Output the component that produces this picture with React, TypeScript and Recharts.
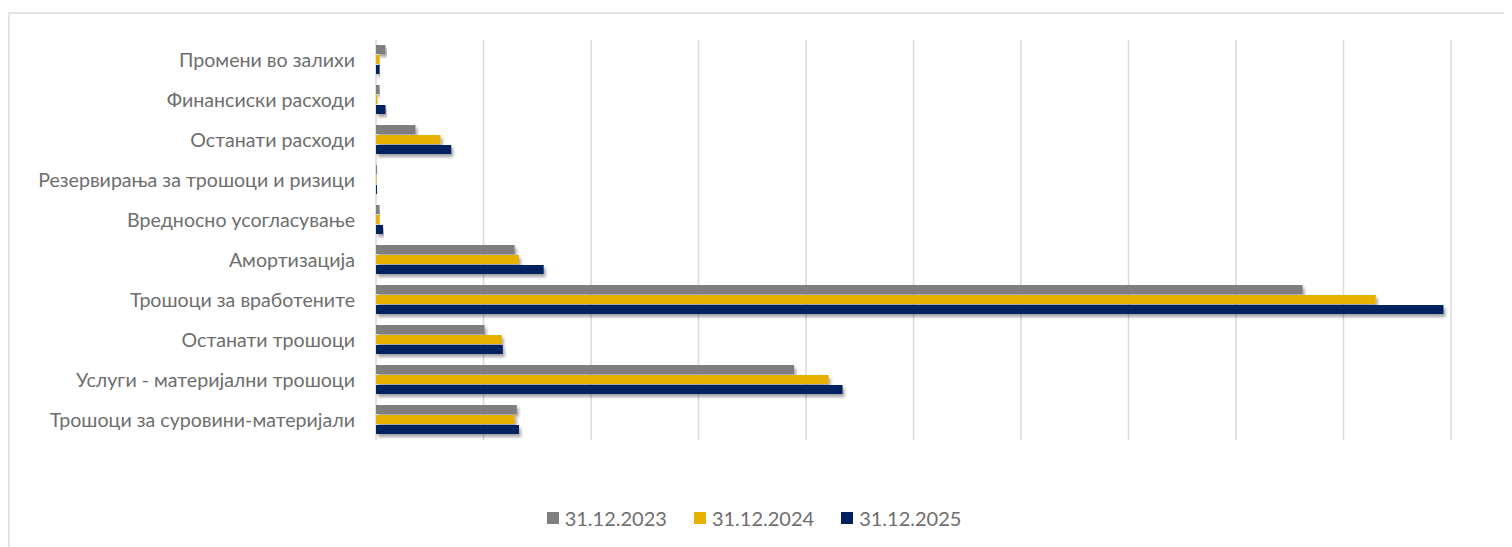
import React from "react";
import {
  Bar,
  BarChart,
  CartesianGrid,
  Legend,
  XAxis,
  YAxis,
} from "recharts";

// категории, од горе надолу
const categories = [
  "Промени во залихи",
  "Финансиски расходи",
  "Останати расходи ",
  "Резервирања за трошоци и ризици",
  "Вредносно усогласување",
  "Амортизација ",
  "Трошоци за вработените",
  "Останати трошоци",
  "Услуги - материјални трошоци",
  "Трошоци за суровини-материјали",
];

const y2023 = [8.8, 3.3, 36.7, 0.9, 3.3, 129, 862, 101, 389, 131];
const y2024 = [3.3, 1.4, 60, 0.5, 3.3, 133, 930, 117, 421, 129];
const y2025 = [3.3, 8.8, 70, 0.9, 6.5, 156, 993, 118, 434, 133];

const xTicks = [0, 100, 200, 300, 400, 500, 600, 700, 800, 900, 1000];

const seriesNames = ["31.12.2023", "31.12.2024", "31.12.2025"];
const colors = ["#7f7f7f", "#e8b000", "#002060"];

const data = categories.map((name, i) => ({
  name,
  a: y2023[i],
  b: y2024[i],
  c: y2025[i],
}));

const FONT = "Lato, 'Open Sans', sans-serif";
const TEXT = "#6e6e6e";

function LegendContent() {
  return (
    <div
      style={{
        display: "flex",
        justifyContent: "center",
        gap: 27,
        fontFamily: FONT,
        fontSize: 20,
        color: TEXT,
      }}
    >
      {seriesNames.map((n, i) => (
        <div key={n} style={{ display: "flex", alignItems: "center", gap: 6 }}>
          <span
            style={{ width: 12, height: 12, background: colors[i], display: "inline-block" }}
          />
          <span>{n}</span>
        </div>
      ))}
    </div>
  );
}

export default function App() {
  return (
    <div
      style={{
        marginTop: 4,
        width: 1504,
        height: 540,
        borderTop: "2px solid #e2e2e2",
        borderLeft: "2px solid #e2e2e2",
        boxSizing: "border-box",
        background: "#fff",
      }}
    >
      <BarChart
        width={1494}
        height={533}
        data={data}
        layout="vertical"
        margin={{ top: 26, right: 53, left: 0, bottom: 107 }}
        barCategoryGap={5}
        barGap={1}
      >
        <defs>
          <filter id="barShadow" x="-5%" y="-30%" width="115%" height="190%">
            <feDropShadow dx="2" dy="3" stdDeviation="1.6" floodColor="#000" floodOpacity="0.35" />
          </filter>
        </defs>
        <CartesianGrid horizontal={false} stroke="#d9d9d9" strokeWidth={1.5} syncWithTicks />
        <XAxis type="number" domain={[0, 1000]} ticks={xTicks} hide />
        <YAxis
          type="category"
          dataKey="name"
          width={366}
          axisLine={false}
          tickLine={false}
          tickSize={0}
          tickMargin={21}
          interval={0}
          tick={{ fill: TEXT, fontSize: 19.6, fontFamily: FONT }}
        />
        <Legend
          verticalAlign="middle"
          content={<LegendContent />}
          wrapperStyle={{ top: 492, left: -3, width: 1494 }}
        />
        <Bar dataKey="a" name={seriesNames[0]} fill={colors[0]} filter="url(#barShadow)" isAnimationActive={false} />
        <Bar dataKey="b" name={seriesNames[1]} fill={colors[1]} filter="url(#barShadow)" isAnimationActive={false} />
        <Bar dataKey="c" name={seriesNames[2]} fill={colors[2]} filter="url(#barShadow)" isAnimationActive={false} />
      </BarChart>
    </div>
  );
}
